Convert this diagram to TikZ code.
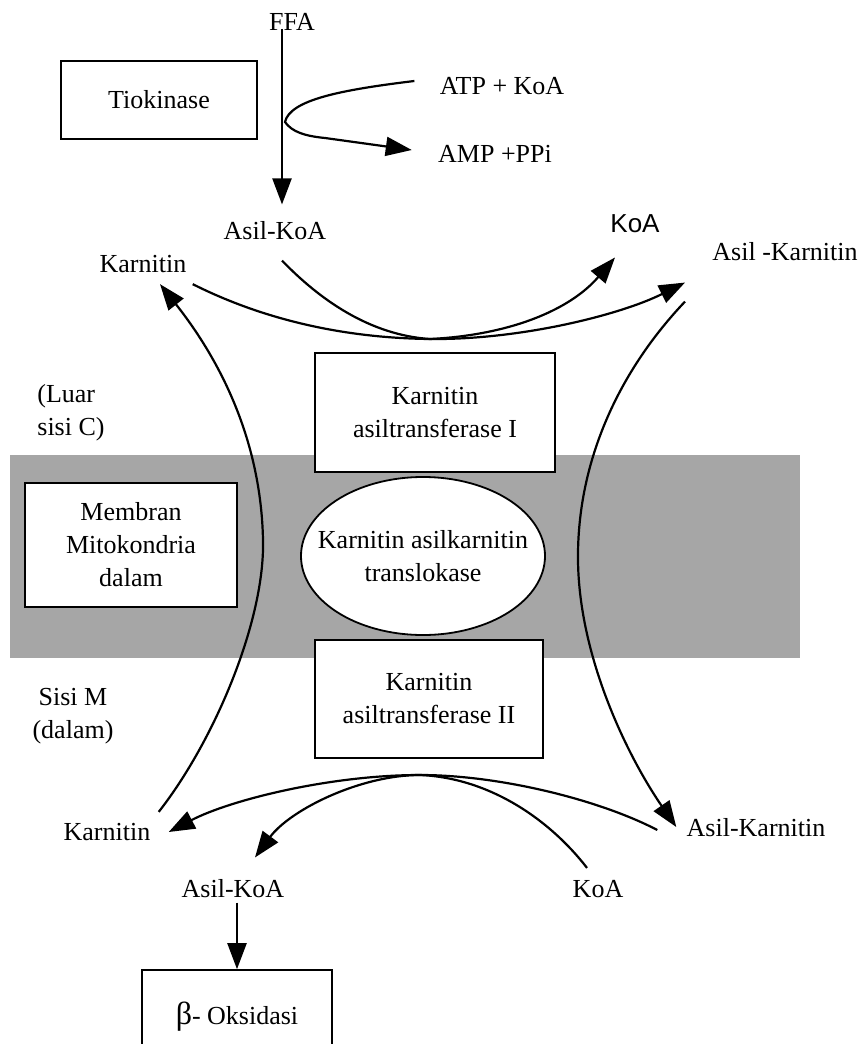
\documentclass[tikz,border=0pt]{standalone}
\usepackage{fontspec}
\setmainfont{Liberation Serif}
\newfontfamily\sansfont{Liberation Sans}
\usetikzlibrary{arrows.meta, shapes.geometric}

\begin{document}
\begin{tikzpicture}[
  x=0.5pt, y=-0.5pt,
  every node/.style={font=\fontsize{13}{16.5}\selectfont},
  lbl/.style={inner sep=2pt},
  enz/.style={rectangle, draw, fill=white, line width=0.8pt, align=center},
  arr/.style={-{Triangle[length=13pt, width=9.5pt]}, line width=1.1pt},
  memb/.style={fill=black!35, draw=none, inner sep=0pt}
]
\useasboundingbox (0,0) rectangle (861,1044);
\clip (0,0) rectangle (861,1044);

% --- Aktivasi asam lemak ---
\node[lbl] (ffa) at (292,22) {FFA};
\node[enz, minimum width=98pt, minimum height=39pt] (tio) at (159,100) {Tiokinase};
\node[lbl] (atp) at (502,86) {ATP + KoA};
\node[lbl] (amp) at (495,154) {AMP +PPi};
\node[lbl] (asilT) at (275,231) {Asil-KoA};
\coordinate (fork) at (285,122);

\draw[arr] ([xshift=-5pt, yshift=3pt]ffa.south) -- ([shift={(7,-13)}]asilT.north);
\draw[arr] ([shift={(-21,-5)}]atp.west) .. controls (340,90) and (290,100) .. (fork)
  .. controls (292,132) and (305,136) .. (325,138) -- ([shift={(-22,-4)}]amp.west);

% --- Sisi luar (C) ---
\node[lbl, font=\sansfont\fontsize{13}{16}\selectfont] (koaT) at (635,224) {KoA};
\node[lbl] (karT) at (143,264) {Karnitin};
\node[lbl] (akT) at (785,252) {Asil -Karnitin};
\node[lbl, align=left] (luar) at (71,413) {(Luar\\sisi C)};

% --- Membran ---
\node[memb, minimum width=395pt, minimum height=101.5pt] (membrane) at (405,556.5) {};
\node[enz, minimum width=106pt, minimum height=62pt] (membran) at (131,545) {Membran\\Mitokondria\\dalam};
\node[ellipse, draw, fill=white, line width=0.9pt, minimum width=122pt, minimum height=79pt] (trans) at (423,556) {};
\node[align=center] (transtxt) at (trans.center) {Karnitin asilkarnitin\\translokase};
\node[enz, minimum width=120pt, minimum height=59.5pt] (kat1) at (435,412.5) {Karnitin\\asiltransferase I};
\node[enz, minimum width=114pt, minimum height=59pt] (kat2) at (429,699) {Karnitin\\asiltransferase II};

% --- Sisi dalam (M) ---
\node[lbl, align=center] (sisiM) at (73,716) {Sisi M\\(dalam)};
\node[lbl] (karB) at (107,832) {Karnitin};
\node[lbl] (akB) at (756,828) {Asil-Karnitin};
\node[lbl] (asilB) at (233,889) {Asil-KoA};
\node[lbl] (koaB) at (598,889) {KoA};
\node[enz, minimum width=95pt, minimum height=47pt] (beta) at (237,1017) {{\fontsize{16}{16}\selectfont β}- Oksidasi};

% top exchange
\coordinate (mtop) at (430,339);
\draw[arr] ([shift={(2,7)}]karT.south east) .. controls (260,318) and (340,338) .. (mtop)
  .. controls (520,340) and (620,315) .. ([shift={(-23,17)}]akT.south west);
\draw[arr] ([shift={(7,16)}]asilT.south) .. controls (320,300) and (370,335) .. (mtop)
  .. controls (510,335) and (570,310) .. ([shift={(-20,20)}]koaT.south);

% transport across membrane
\draw[arr] ([shift={(4,-7)}]karB.north east) .. controls (215,740) and (265,620) .. (263,540)
  .. controls (261,440) and (220,360) .. ([shift={(17,7)}]karT.south);
\draw[arr] ([shift={(-23,36)}]akT.south west) .. controls (620,370) and (577,460) .. (578,560)
  .. controls (579,660) and (630,760) .. ([shift={(-6,-1)}]akB.west);

% bottom exchange
\coordinate (mbot) at (420,775);
\draw[arr] ([shift={(-25,2)}]akB.west) .. controls (600,800) and (500,775) .. (mbot)
  .. controls (330,775) and (230,800) .. ([shift={(14,0)}]karB.east);
\draw[arr] ([shift={(-11,-8)}]koaB.north) .. controls (550,820) and (490,778) .. (mbot)
  .. controls (360,775) and (290,810) .. ([shift={(22,-18)}]asilB.north);

\draw[arr] ([xshift=2pt]asilB.south) -- (beta.north);

\end{tikzpicture}
\end{document}
